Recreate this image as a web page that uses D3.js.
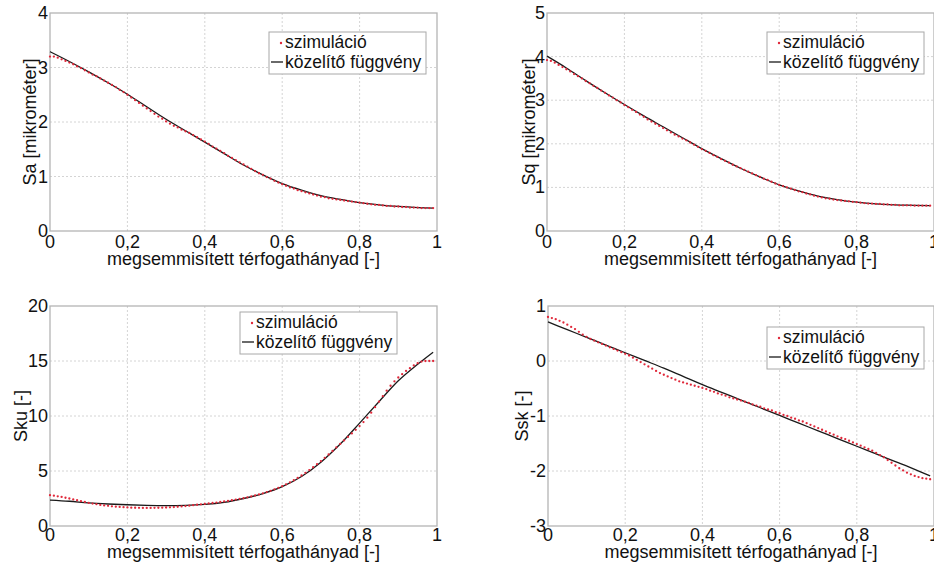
<!DOCTYPE html>
<html lang="hu">
<head>
<meta charset="utf-8">
<title>Sa, Sq, Sku, Ssk</title>
<script src="https://cdn.jsdelivr.net/npm/d3@7"></script>
<style>
  body { margin: 0; background: #fff; }
  svg { display: block; font-family: "Liberation Sans", Arial, sans-serif; }
  .grid line { stroke: #d4d4d4; stroke-dasharray: 2,2; }
  .tick-label { font-size: 18px; fill: #111; }
  .label { font-size: 18px; fill: #111; }
  .legend text { font-size: 17.5px; fill: #111; }
</style>
</head>
<body>
<script>
// simulation sample positions (destroyed volume fraction)
var simX = [0,0.01,0.02,0.03,0.04,0.05,0.06,0.07,0.08,0.09,
  0.10,0.11,0.12,0.13,0.14,0.15,0.16,0.17,0.18,0.19,
  0.20,0.21,0.22,0.23,0.24,0.25,0.26,0.27,0.28,0.29,
  0.30,0.31,0.32,0.33,0.34,0.35,0.36,0.37,0.38,0.39,
  0.40,0.41,0.42,0.43,0.44,0.45,0.46,0.47,0.48,0.49,
  0.50,0.51,0.52,0.53,0.54,0.55,0.56,0.57,0.58,0.59,
  0.60,0.61,0.62,0.63,0.64,0.65,0.66,0.67,0.68,0.69,
  0.70,0.71,0.72,0.73,0.74,0.75,0.76,0.77,0.78,0.79,
  0.80,0.81,0.82,0.83,0.84,0.85,0.86,0.87,0.88,0.89,
  0.90,0.91,0.92,0.93,0.94,0.95,0.96,0.97,0.98,0.99];
var fitX = [0,0.05,0.1,0.15,0.2,0.25,0.3,0.35,0.4,0.45,0.5,0.55,0.6,0.65,0.7,0.75,0.8,0.85,0.9,0.95,0.99];

var saSim = [3.20,3.20,3.18,3.15,3.12,3.09,3.06,3.02,2.99,2.95,
  2.91,2.87,2.84,2.80,2.76,2.72,2.68,2.64,2.59,2.55,
  2.50,2.45,2.40,2.35,2.30,2.25,2.20,2.15,2.10,2.06,
  2.01,1.97,1.93,1.90,1.86,1.83,1.80,1.76,1.72,1.68,
  1.64,1.60,1.55,1.51,1.47,1.43,1.38,1.34,1.30,1.26,
  1.22,1.18,1.14,1.10,1.06,1.03,0.99,0.96,0.92,0.89,
  0.86,0.83,0.80,0.78,0.75,0.73,0.71,0.69,0.67,0.65,
  0.63,0.62,0.60,0.59,0.58,0.57,0.56,0.55,0.54,0.53,
  0.52,0.51,0.50,0.49,0.48,0.48,0.47,0.46,0.46,0.45,
  0.45,0.44,0.44,0.43,0.43,0.43,0.42,0.42,0.42,0.42];
var saFit = [3.29,3.11,2.92,2.72,2.51,2.28,2.05,1.84,1.63,1.42,1.21,1.03,0.87,0.75,0.65,0.58,0.52,0.48,0.45,0.43,0.42];

var sqSim = [3.92,3.90,3.86,3.81,3.76,3.71,3.66,3.60,3.55,3.50,
  3.44,3.39,3.33,3.28,3.22,3.17,3.11,3.06,3.00,2.95,
  2.89,2.84,2.78,2.73,2.67,2.62,2.56,2.51,2.46,2.41,
  2.36,2.31,2.26,2.21,2.17,2.12,2.08,2.03,1.98,1.93,
  1.88,1.84,1.79,1.74,1.70,1.65,1.61,1.57,1.52,1.48,
  1.44,1.40,1.36,1.32,1.28,1.24,1.20,1.17,1.13,1.09,
  1.06,1.03,1.00,0.97,0.94,0.91,0.89,0.86,0.84,0.81,
  0.79,0.77,0.75,0.74,0.72,0.71,0.70,0.69,0.68,0.67,
  0.66,0.65,0.64,0.63,0.63,0.62,0.62,0.61,0.61,0.60,
  0.60,0.59,0.59,0.59,0.59,0.58,0.58,0.58,0.58,0.58];
var sqFit = [4.01,3.74,3.45,3.17,2.90,2.64,2.39,2.14,1.89,1.66,1.44,1.24,1.06,0.92,0.80,0.72,0.66,0.62,0.60,0.59,0.58];

var skuSim = [2.80,2.76,2.70,2.64,2.57,2.50,2.42,2.34,2.26,2.18,
  2.10,2.04,1.98,1.92,1.87,1.83,1.79,1.76,1.73,1.71,
  1.69,1.67,1.66,1.65,1.64,1.64,1.64,1.65,1.66,1.67,
  1.68,1.70,1.72,1.75,1.78,1.81,1.85,1.89,1.93,1.97,
  2.01,2.05,2.09,2.13,2.18,2.23,2.28,2.34,2.40,2.46,
  2.53,2.61,2.69,2.78,2.87,2.97,3.08,3.20,3.33,3.47,
  3.62,3.79,3.97,4.16,4.37,4.59,4.83,5.08,5.34,5.62,
  5.90,6.20,6.50,6.82,7.14,7.46,7.78,8.10,8.42,8.74,
  9.08,9.45,9.85,10.30,10.80,11.30,11.80,12.30,12.75,13.15,
  13.50,13.80,14.10,14.35,14.60,14.80,14.95,15.00,15.00,15.00];
var skuFit = [2.36,2.25,2.10,2.00,1.93,1.88,1.86,1.88,1.96,2.15,2.50,2.95,3.58,4.50,5.80,7.45,9.35,11.30,13.20,14.70,15.80];

var sskSim = [0.80,0.78,0.76,0.73,0.70,0.66,0.62,0.58,0.53,0.48,
  0.44,0.40,0.37,0.34,0.31,0.28,0.25,0.22,0.19,0.16,
  0.13,0.10,0.06,0.02,-0.02,-0.06,-0.10,-0.14,-0.18,-0.22,
  -0.25,-0.28,-0.31,-0.34,-0.37,-0.39,-0.41,-0.43,-0.45,-0.47,
  -0.49,-0.51,-0.54,-0.56,-0.59,-0.61,-0.63,-0.66,-0.68,-0.70,
  -0.72,-0.74,-0.76,-0.79,-0.81,-0.83,-0.86,-0.88,-0.90,-0.93,
  -0.95,-0.98,-1.00,-1.03,-1.05,-1.08,-1.10,-1.13,-1.16,-1.19,
  -1.22,-1.25,-1.28,-1.31,-1.34,-1.37,-1.40,-1.42,-1.45,-1.48,
  -1.51,-1.54,-1.57,-1.60,-1.63,-1.67,-1.71,-1.75,-1.80,-1.85,
  -1.90,-1.95,-1.99,-2.03,-2.06,-2.09,-2.11,-2.13,-2.14,-2.15];
var sskFit = [0.71,0.57,0.43,0.29,0.15,0.01,-0.13,-0.28,-0.43,-0.57,-0.71,-0.85,-0.99,-1.13,-1.27,-1.41,-1.55,-1.69,-1.83,-1.97,-2.09];

var xTicks = [0, 0.2, 0.4, 0.6, 0.8, 1];
var legendNames = ["szimuláció", "közelítő függvény"];
var xTitle = "megsemmisített térfogathányad [-]";

var panels = [
  {sim: saSim, fit: saFit, yTitle: "Sa [mikrométer]", yDomain: [0, 4], yTicks: [0,1,2,3,4],
   left: 50, right: 437, top: 13, bottom: 231, tickDy: 17, titleDy: 34, yTitleDx: 14, legTop: 19, legRight: 11},
  {sim: sqSim, fit: sqFit, yTitle: "Sq [mikrométer]", yDomain: [0, 5], yTicks: [0,1,2,3,4,5],
   left: 547, right: 934, top: 13, bottom: 231, tickDy: 17, titleDy: 34, yTitleDx: 12, legTop: 19, legRight: 10},
  {sim: skuSim, fit: skuFit, yTitle: "Sku [-]", yDomain: [0, 20], yTicks: [0,5,10,15,20],
   left: 50, right: 437, top: 306, bottom: 526, tickDy: 15, titleDy: 32, yTitleDx: 23, legTop: 6, legRight: 40},
  {sim: sskSim, fit: sskFit, yTitle: "Ssk [-]", yDomain: [-3, 1], yTicks: [-3,-2,-1,0,1],
   left: 548, right: 934, top: 306, bottom: 526, tickDy: 15, titleDy: 32, yTitleDx: 20, legTop: 21, legRight: 10}
];

var W = 934, H = 565;
var svg = d3.select("body").append("svg").attr("width", W).attr("height", H);

var fmtX = function(d) { return d === 0 || d === 1 ? String(d) : String(d).replace(".", ","); };

panels.forEach(function(p) {
  var x = d3.scaleLinear().domain([0, 1]).range([p.left, p.right]);
  var y = d3.scaleLinear().domain(p.yDomain).range([p.bottom, p.top]);
  var g = svg.append("g");

  // grid
  var grid = g.append("g").attr("class", "grid");
  grid.selectAll(".gx").data(xTicks.slice(1, -1)).enter().append("line")
    .attr("x1", function(d) { return x(d); }).attr("x2", function(d) { return x(d); })
    .attr("y1", p.top).attr("y2", p.bottom);
  grid.selectAll(".gy").data(p.yTicks.slice(1, -1)).enter().append("line")
    .attr("y1", function(d) { return y(d); }).attr("y2", function(d) { return y(d); })
    .attr("x1", p.left).attr("x2", p.right);

  // box
  g.append("rect")
    .attr("x", p.left).attr("y", p.top)
    .attr("width", p.right - p.left).attr("height", p.bottom - p.top)
    .attr("fill", "none").attr("stroke", "#b4b4b4").attr("stroke-width", 1.3);

  // tick labels
  g.selectAll(".xt").data(xTicks).enter().append("text")
    .attr("class", "tick-label")
    .attr("x", function(d) { return x(d); })
    .attr("y", p.bottom + p.tickDy)
    .attr("text-anchor", "middle")
    .text(fmtX);
  g.selectAll(".yt").data(p.yTicks).enter().append("text")
    .attr("class", "tick-label")
    .attr("x", p.left - 2)
    .attr("y", function(d) { return y(d) + 6; })
    .attr("text-anchor", "end")
    .text(function(d) { return d; });

  // axis titles
  g.append("text").attr("class", "label")
    .attr("x", (p.left + p.right) / 2)
    .attr("y", p.bottom + p.titleDy)
    .attr("text-anchor", "middle")
    .text(xTitle);
  g.append("text").attr("class", "label")
    .attr("transform", "translate(" + (p.left - p.yTitleDx) + "," + ((p.top + p.bottom) / 2) + ") rotate(-90)")
    .attr("text-anchor", "middle")
    .text(p.yTitle);

  // fitted curve
  var line = d3.line()
    .x(function(d, i) { return x(fitX[i]); })
    .y(function(d) { return y(d); })
    .curve(d3.curveMonotoneX);
  g.append("path").datum(p.fit)
    .attr("d", line)
    .attr("fill", "none").attr("stroke", "#1a1a1a").attr("stroke-width", 1.3);

  // simulation dots
  g.selectAll(".dot").data(p.sim).enter().append("circle")
    .attr("cx", function(d, i) { return x(simX[i]); })
    .attr("cy", function(d) { return y(d); })
    .attr("r", 1.15)
    .attr("fill", "#e0283a");

  // legend
  var lw = 157, lh = 42;
  var lx = p.right - p.legRight - lw, ly = p.top + p.legTop;
  var leg = g.append("g").attr("class", "legend");
  leg.append("rect").attr("x", lx).attr("y", ly).attr("width", lw).attr("height", lh)
    .attr("fill", "#fff").attr("stroke", "#a8a8a8").attr("stroke-width", 1);
  leg.append("circle").attr("cx", lx + 12).attr("cy", ly + 11).attr("r", 1.2).attr("fill", "#e0283a");
  leg.append("line").attr("x1", lx + 2).attr("x2", lx + 14).attr("y1", ly + 30).attr("y2", ly + 30)
    .attr("stroke", "#1a1a1a").attr("stroke-width", 1.3);
  leg.selectAll(".lt").data(legendNames).enter().append("text")
    .attr("x", lx + 16)
    .attr("y", function(d, i) { return ly + 16 + i * 20; })
    .text(function(d) { return d; });
});
</script>
</body>
</html>
